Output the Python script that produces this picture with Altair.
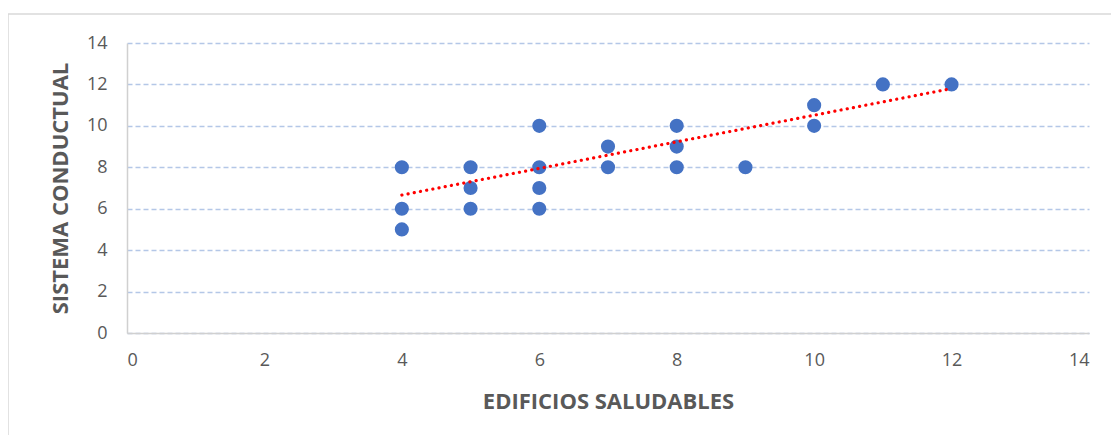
import altair as alt
import pandas as pd

x_vals = [4, 4, 4, 5, 5, 5, 6, 6, 6, 6, 7, 7, 8, 8, 8, 9, 10, 10, 11, 12]
y_vals = [8, 6, 5, 8, 7, 6, 10, 8, 7, 6, 9, 8, 10, 9, 8, 8, 11, 10, 12, 12]

trend_x = [4, 12]
trend_y = [6.66, 11.8]

ticks = [0, 2, 4, 6, 8, 10, 12, 14]

pts = pd.DataFrame({"x": x_vals, "y": y_vals})
trend = pd.DataFrame({"x": trend_x, "y": trend_y})

FONT = "Open Sans"
GRAY = "#595959"

xscale = alt.Scale(domain=[0, 14], nice=False, zero=True)
yscale = alt.Scale(domain=[0, 14], nice=False, zero=True)

xaxis = alt.Axis(values=ticks, format="d", title="EDIFICIOS SALUDABLES", grid=False, ticks=False,
                 domainColor="#d0d0d0", domainWidth=1.5, labelFont=FONT, labelFontSize=18,
                 labelColor=GRAY, labelPadding=18, titleFont=FONT, titleFontSize=22,
                 titleFontWeight="bold", titleColor=GRAY, titlePadding=22)
yaxis = alt.Axis(values=ticks, format="d", title="SISTEMA CONDUCTUAL", grid=True,
                 gridColor="#b4c7e7", gridDash=[5, 3], gridWidth=1.5, ticks=False,
                 domainColor="#d0d0d0", domainWidth=1.5, labelFont=FONT, labelFontSize=18,
                 labelColor=GRAY, labelPadding=20, titleFont=FONT, titleFontSize=22,
                 titleFontWeight="bold", titleColor=GRAY, titlePadding=14)

border = alt.Chart(pd.DataFrame({"a": [0]})).mark_rect(
    fill="white", fillOpacity=0, stroke="#d9d9d9", strokeWidth=1.5
).encode(x=alt.value(-119), x2=alt.value(1102), y=alt.value(-29), y2=alt.value(440))

points = alt.Chart(pts).mark_circle(size=200, color="#4472C4", opacity=1).encode(
    x=alt.X("x:Q", scale=xscale, axis=xaxis),
    y=alt.Y("y:Q", scale=yscale, axis=yaxis),
)

line = alt.Chart(trend).mark_line(
    color="#ff0000", strokeWidth=3.2, strokeDash=[0.1, 6.2], strokeCap="round"
).encode(x=alt.X("x:Q", scale=xscale), y=alt.Y("y:Q", scale=yscale))

chart = alt.layer(border, points, line).properties(
    width=962, height=290,
    padding={"left": 119, "top": 35, "right": 22, "bottom": 102},
    autosize=alt.AutoSizeParams(type="none"),
    background="white",
).configure_view(stroke=None)

chart.save("out.html", embed_options={"renderer": "svg", "actions": False})
